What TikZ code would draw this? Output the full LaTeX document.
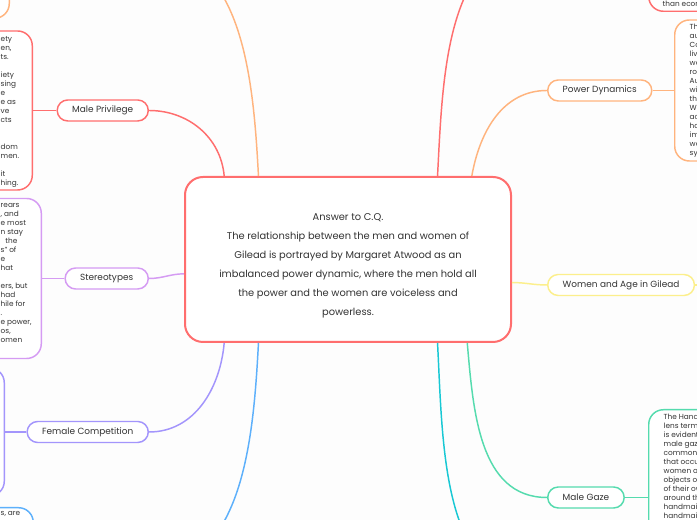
\documentclass[tikz,border=0pt]{standalone}
\usepackage{fontspec}
\setmainfont{Poppins}

\definecolor{paper}{HTML}{FDFDFD}
\definecolor{ink}{HTML}{333333}
\definecolor{cqred}{HTML}{FF6E6E}
\definecolor{cqpeach}{HTML}{FFB47E}
\definecolor{cqlilac}{HTML}{D59BF3}
\definecolor{cqviolet}{HTML}{A395FC}
\definecolor{cqblue}{HTML}{5DB0FB}
\definecolor{cqcyan}{HTML}{18C8D4}
\definecolor{cqgreen}{HTML}{55DBAE}
\definecolor{cqyellow}{HTML}{FCEF8C}

\begin{document}
\begin{tikzpicture}[x=0.75pt, y=0.75pt, line width=1.1pt,
  topic/.style={draw, fill=white, rounded corners=7.9pt, minimum height=15.75pt,
    inner xsep=11.25pt, inner ysep=0pt, text=ink, font=\fontsize{6.7}{8}\selectfont},
  note/.style={draw, fill=white, rounded corners=11pt, minimum width=75pt},
  frag/.style={inner sep=0pt, align=left, anchor=north west, text=ink,
    font=\fontsize{5.5}{6.75}\selectfont}]
  \useasboundingbox (0,0) rectangle (697,520);
  \fill[paper] (0,0) rectangle (697,520);
  \clip (0,0) rectangle (697,520);

  % central question
  \node[draw=cqred, line width=1.5pt, fill=white, rounded corners=13.5pt,
    minimum width=244.5pt, minimum height=123.75pt, align=center, text=ink,
    font=\fontsize{7.4}{14.25}\selectfont] (cq) at (348,260.5)
    {\rule{0pt}{14.5pt}Answer to C.Q.\\The relationship between the men and women of\\Gilead is portrayed by Margaret Atwood as an\\imbalanced power dynamic, where the men hold all\\the power and the women are voiceless and\\powerless.};

  % main topics
  \node[topic, draw=cqred, anchor=east] (privilege) at (149,409.5) {Male Privilege};
  \node[topic, draw=cqlilac, anchor=east] (stereo) at (149,241.5) {Stereotypes};
  \node[topic, draw=cqviolet, anchor=east] (competition) at (149,88) {Female Competition};
  \node[topic, draw=cqpeach, anchor=west] (power) at (547,429.5) {Power Dynamics};
  \node[topic, draw=cqyellow, anchor=west] (age) at (547,235) {Women and Age in Gilead};
  \node[topic, draw=cqgreen, anchor=west] (gaze) at (547,22.5) {Male Gaze};

  % topics outside the frame
  \coordinate (toporange) at (142,572);
  \coordinate (topred) at (547,580);
  \coordinate (botblue) at (142,-52);
  \coordinate (botcyan) at (547,-70);
  \coordinate (agenote) at (740,235);

  % notes
  \node[note, draw=cqred, anchor=east, minimum height=119.25pt] (privnote) at (33,409.5) {};
  \node[note, draw=cqlilac, anchor=east, minimum height=120pt] (stereonote) at (42,241.5) {};
  \node[note, draw=cqviolet, anchor=east, minimum height=96pt] (compnote) at (5,88) {};
  \node[note, draw=cqblue, anchor=north east, minimum height=90pt] (bluenote) at (34,13) {};
  \node[note, draw=cqpeach, anchor=south east, minimum height=75pt] (orangenote) at (10,501) {};
  \node[note, draw=cqred, anchor=south west, minimum height=60pt] (rednote) at (648,508) {};
  \node[note, draw=cqpeach, anchor=west, minimum height=105.75pt] (powernote) at (674,429.5) {};
  \node[note, draw=cqgreen, anchor=north west, minimum height=150pt] (gazenote) at (648,111) {};

  \node[frag] (privtext) at (0,484.5) {ety\\en,\\ts.\\\mbox{}\\iety\\sing\\e\\e as\\ve\\cts\\\mbox{}\\\mbox{}\\dom\\men.\\\mbox{}\\it\\hing.};
  \node[frag] (stereotext) at (0,317.5) {rears\\, and\\e most\\n stay\\\hspace*{3.5pt}the\\s” of\\e\\hat\\\mbox{}\\ers, but\\had\\hile for\\.\\e power,\\os,\\omen};
  \node[frag] (bluetext) at (0,9.5) {s, are};
  \node[frag] (redtext) at (662,519.5) {than econo};
  \node[frag] (powertext) at (689,496.5) {Th\\au\\Co\\liv\\wo\\ro\\Au\\wi\\the\\We\\ac\\ha\\im\\wo\\sy};
  \node[frag] (gazetext) at (663,106.5) {The Hand\\lens terms\\is evident\\male gaze\\common t\\that occur\\women ar\\objects of\\of their ow\\around the\\handmaid\\handmaid};

  % branches
  \draw[cqred] (cq.146) to[out=95,in=0] (privilege.east);
  \draw[cqpeach] (cq.137) to[out=93,in=0] (toporange);
  \draw[cqred] (cq.43) to[out=87,in=180] (topred);
  \draw[cqpeach] (cq.34) to[out=80,in=180] (power.west);
  \draw[cqyellow] (cq.352) to[out=0,in=180] (age.west);
  \draw[cqgreen] (cq.325) to[out=-85,in=180] (gaze.west);
  \draw[cqcyan] (cq.317) to[out=-87,in=180] (botcyan);
  \draw[cqblue] (cq.223) to[out=-93,in=0] (botblue);
  \draw[cqviolet] (cq.214) to[out=-95,in=0] (competition.east);
  \draw[cqlilac] (cq.185) to[out=180,in=0] (stereo.east);

  \draw[cqred] (privnote.east) -- (privilege.west);
  \draw[cqlilac] (stereonote.east) -- (stereo.west);
  \draw[cqviolet] (compnote.east) -- (competition.west);
  \draw[cqpeach] (power.east) -- (powernote.west);
  \draw[cqyellow] (age.east) -- (agenote);
  \draw[cqgreen] (gaze.east) -- (gaze.east -| gazenote.west);
\end{tikzpicture}
\end{document}
